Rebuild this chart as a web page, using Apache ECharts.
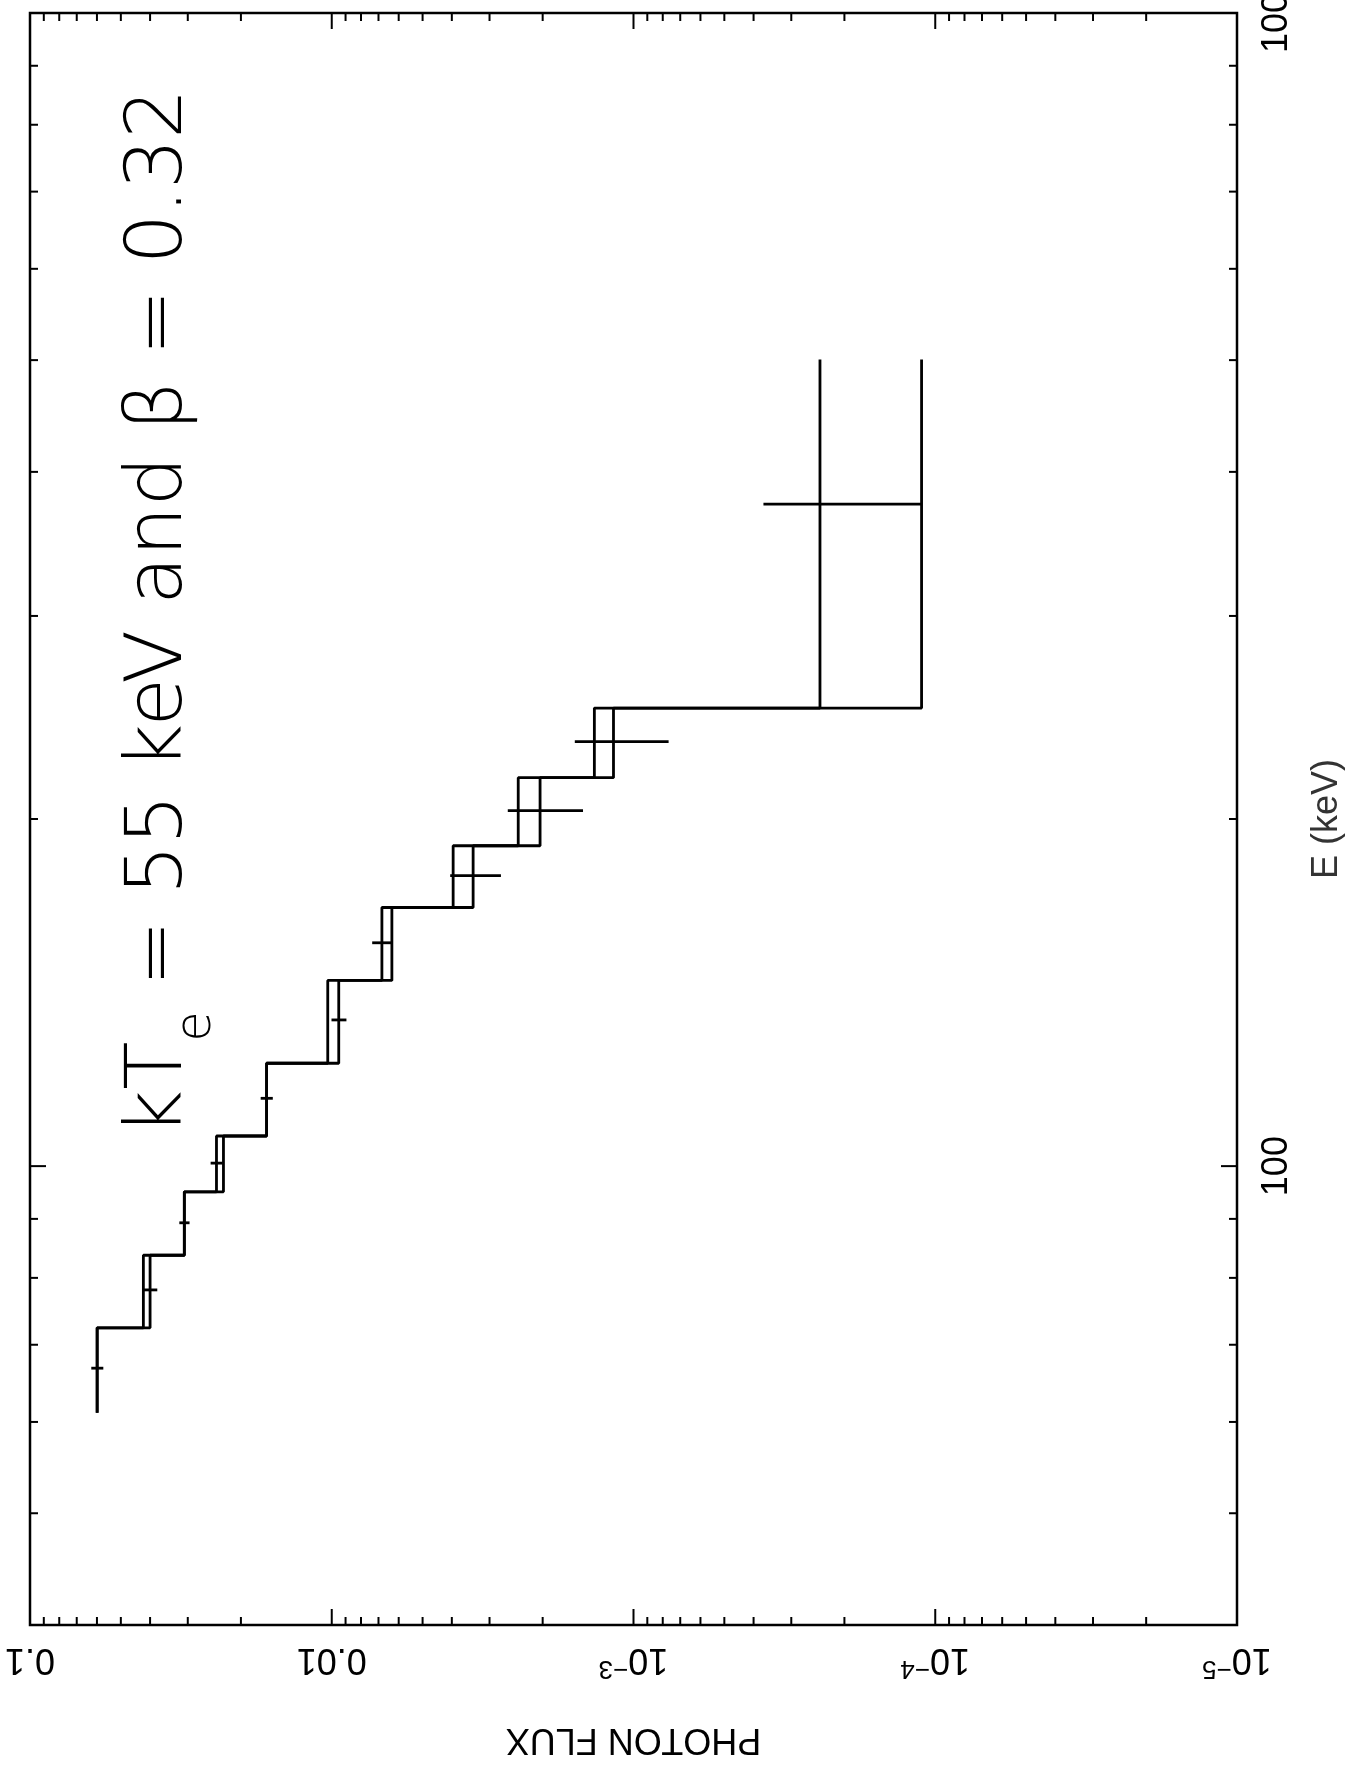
<!DOCTYPE html>
<html>
<head>
<meta charset="utf-8">
<script src="https://cdn.jsdelivr.net/npm/echarts@6/dist/echarts.min.js"></script>
<style>
  html, body { margin: 0; padding: 0; background: #fff; }
  #chart { width: 1367px; height: 1769px; }
</style>
</head>
<body>
<div id="chart"></div>
<script>
// Energy channels (keV): lower and upper edge of each bin
const binLow  = [61.1, 72.4, 83.7, 95.0, 106.2, 122.8, 144.9, 167.6, 189.6, 217.2, 249.6];
const binHigh = [72.4, 83.7, 95.0, 106.2, 122.8, 144.9, 167.6, 189.6, 217.2, 249.6, 500.6];
// Energy at which each measured point carries its flux error bar
const pointEnergy = [66.8, 78.1, 89.3, 100.6, 114.5, 133.9, 156.2, 178.6, 203.4, 233.4, 375.0];
// Measured photon flux per bin and its 1-sigma error
const dataFlux = [0.0599, 0.0400, 0.0308, 0.0241, 0.01644, 0.00948, 0.00682, 0.00340, 0.00204, 0.001165, 2.41e-4];
const dataErr  = [0.00275, 0.00214, 0.0012, 0.0011, 0.00076, 0.00054, 0.000525, 0.00065, 0.00057, 0.00040, 1.30e-4];
// Comptonization model flux per bin
const modelFlux = [0.0599, 0.0421, 0.0308, 0.02285, 0.01644, 0.01031, 0.00632, 0.00396, 0.00241, 0.001348, 1.11e-4];

// Axis ranges and labelled ticks
const fluxMin = 1e-5, fluxMax = 0.1;
const energyMin = 40, energyMax = 1000;
const fluxTickValues = [0.1, 0.01, 1e-3, 1e-4, 1e-5];
const fluxTickLabels = ['0.1', '0.01', '10{s|−3}', '10{s|−4}', '10{s|−5}'];
const energyTickValues = [100, 1000];
const energyTickLabels = ['100', '1000'];
// Decades carrying 2..9 minor ticks
const fluxDecades = [1e-5, 1e-4, 1e-3, 1e-2];
const energyMinorTicks = [50, 60, 70, 80, 90, 200, 300, 400, 500, 600, 700, 800, 900];

const FONT = '"Liberation Sans", Helvetica, Arial, sans-serif';
const TITLE_FONT = '"DejaVu Sans ExtraLight", "DejaVu Sans", sans-serif';
const MAJOR = 16, MINOR = 8;

function matchIndex(list, v) {
  for (let i = 0; i < list.length; i++) {
    if (Math.abs(Math.log10(list[i]) - Math.log10(v)) < 1e-6) return i;
  }
  return -1;
}

// Histogram outline: one vertical run per bin, joined at the bin edges
function stepPoints(values) {
  const pts = [];
  values.forEach((v, i) => { pts.push([v, binLow[i]]); pts.push([v, binHigh[i]]); });
  return pts;
}

// Tick marks on all four sides: [x, y, direction, length]
// direction: 0 up, 1 down, 2 right, 3 left
const tickItems = [];
fluxTickValues.forEach(v => {
  tickItems.push([v, energyMin, 0, MAJOR]);
  tickItems.push([v, energyMax, 1, MAJOR]);
});
fluxDecades.forEach(d => {
  for (let m = 2; m <= 9; m++) {
    tickItems.push([d * m, energyMin, 0, MINOR]);
    tickItems.push([d * m, energyMax, 1, MINOR]);
  }
});
energyTickValues.forEach(v => {
  tickItems.push([fluxMax, v, 2, MAJOR]);
  tickItems.push([fluxMin, v, 3, MAJOR]);
});
energyMinorTicks.forEach(v => {
  tickItems.push([fluxMax, v, 2, MINOR]);
  tickItems.push([fluxMin, v, 3, MINOR]);
});

const chart = echarts.init(document.getElementById('chart'), null, { renderer: 'canvas' });

const option = {
  animation: false,
  backgroundColor: '#fff',
  grid: {
    left: 30, right: 130, top: 13, bottom: 144,
    outerBoundsMode: 'none', containLabel: false,
    show: true, borderColor: '#000', borderWidth: 2.5, backgroundColor: 'transparent'
  },
  xAxis: {
    type: 'log', logBase: 10, min: fluxMin, max: fluxMax, inverse: true,
    position: 'bottom',
    axisLine: { show: false }, axisTick: { show: false }, splitLine: { show: false },
    axisLabel: {
      rotate: 180, margin: 16, color: '#000', fontFamily: FONT, fontSize: 36,
      formatter: v => { const i = matchIndex(fluxTickValues, v); return i < 0 ? '' : fluxTickLabels[i]; },
      rich: {
        s: { fontSize: 26, lineHeight: 26, padding: [0, 0, 18, 0], fontFamily: FONT, color: '#000' }
      }
    },
    name: 'PHOTON FLUX', nameLocation: 'middle', nameRotate: 180, nameGap: 96,
    nameTextStyle: { color: '#000', fontFamily: FONT, fontSize: 36 }
  },
  yAxis: {
    type: 'log', logBase: 10, min: energyMin, max: energyMax,
    position: 'right',
    axisLine: { show: false }, axisTick: { show: false }, splitLine: { show: false },
    axisLabel: {
      rotate: 90, margin: 22, color: '#000', fontFamily: FONT, fontSize: 36,
      showMinLabel: false,
      formatter: v => { const i = matchIndex(energyTickValues, v); return i < 0 ? '' : energyTickLabels[i]; }
    },
    name: 'E (keV)', nameLocation: 'middle', nameRotate: 90, nameGap: 72,
    nameTextStyle: { color: '#333', fontFamily: FONT, fontSize: 36 }
  },
  graphic: [{
    type: 'text', x: 160, y: 612, rotation: Math.PI / 2,
    style: {
      text: '{m|kT}{s|e}{m| = 55 keV and β = 0.32}',
      align: 'center', verticalAlign: 'middle',
      rich: {
        m: { fontSize: 79, lineHeight: 79, fontFamily: TITLE_FONT, fontWeight: 200, fill: '#000' },
        s: { fontSize: 49, lineHeight: 49, padding: [74, 0, 0, 0], fontFamily: TITLE_FONT, fontWeight: 200, fill: '#000' }
      }
    }
  }],
  series: [
    {
      name: 'model', type: 'line', data: stepPoints(modelFlux),
      showSymbol: false, symbol: 'none', clip: false,
      lineStyle: { color: '#000', width: 2.8 }
    },
    {
      name: 'data', type: 'line', data: stepPoints(dataFlux),
      showSymbol: false, symbol: 'none', clip: false,
      lineStyle: { color: '#000', width: 2.8 }
    },
    {
      name: 'errors', type: 'custom',
      data: dataFlux.map((f, i) => [f, pointEnergy[i], f - dataErr[i], f + dataErr[i]]),
      encode: { x: 0, y: 1 },
      renderItem: (params, api) => {
        const a = api.coord([api.value(2), api.value(1)]);
        const b = api.coord([api.value(3), api.value(1)]);
        return {
          type: 'line',
          shape: { x1: a[0], y1: a[1], x2: b[0], y2: b[1] },
          style: { stroke: '#000', lineWidth: 2.8 }
        };
      }
    },
    {
      name: 'ticks', type: 'custom', data: tickItems,
      encode: { x: 0, y: 1 }, silent: true,
      renderItem: (params, api) => {
        const p = api.coord([api.value(0), api.value(1)]);
        const dir = api.value(2), len = api.value(3);
        const d = [[0, -1], [0, 1], [1, 0], [-1, 0]][dir];
        return {
          type: 'line',
          shape: { x1: p[0], y1: p[1], x2: p[0] + d[0] * len, y2: p[1] + d[1] * len },
          style: { stroke: '#000', lineWidth: 2 }
        };
      }
    }
  ]
};

chart.setOption(option);
</script>
</body>
</html>
